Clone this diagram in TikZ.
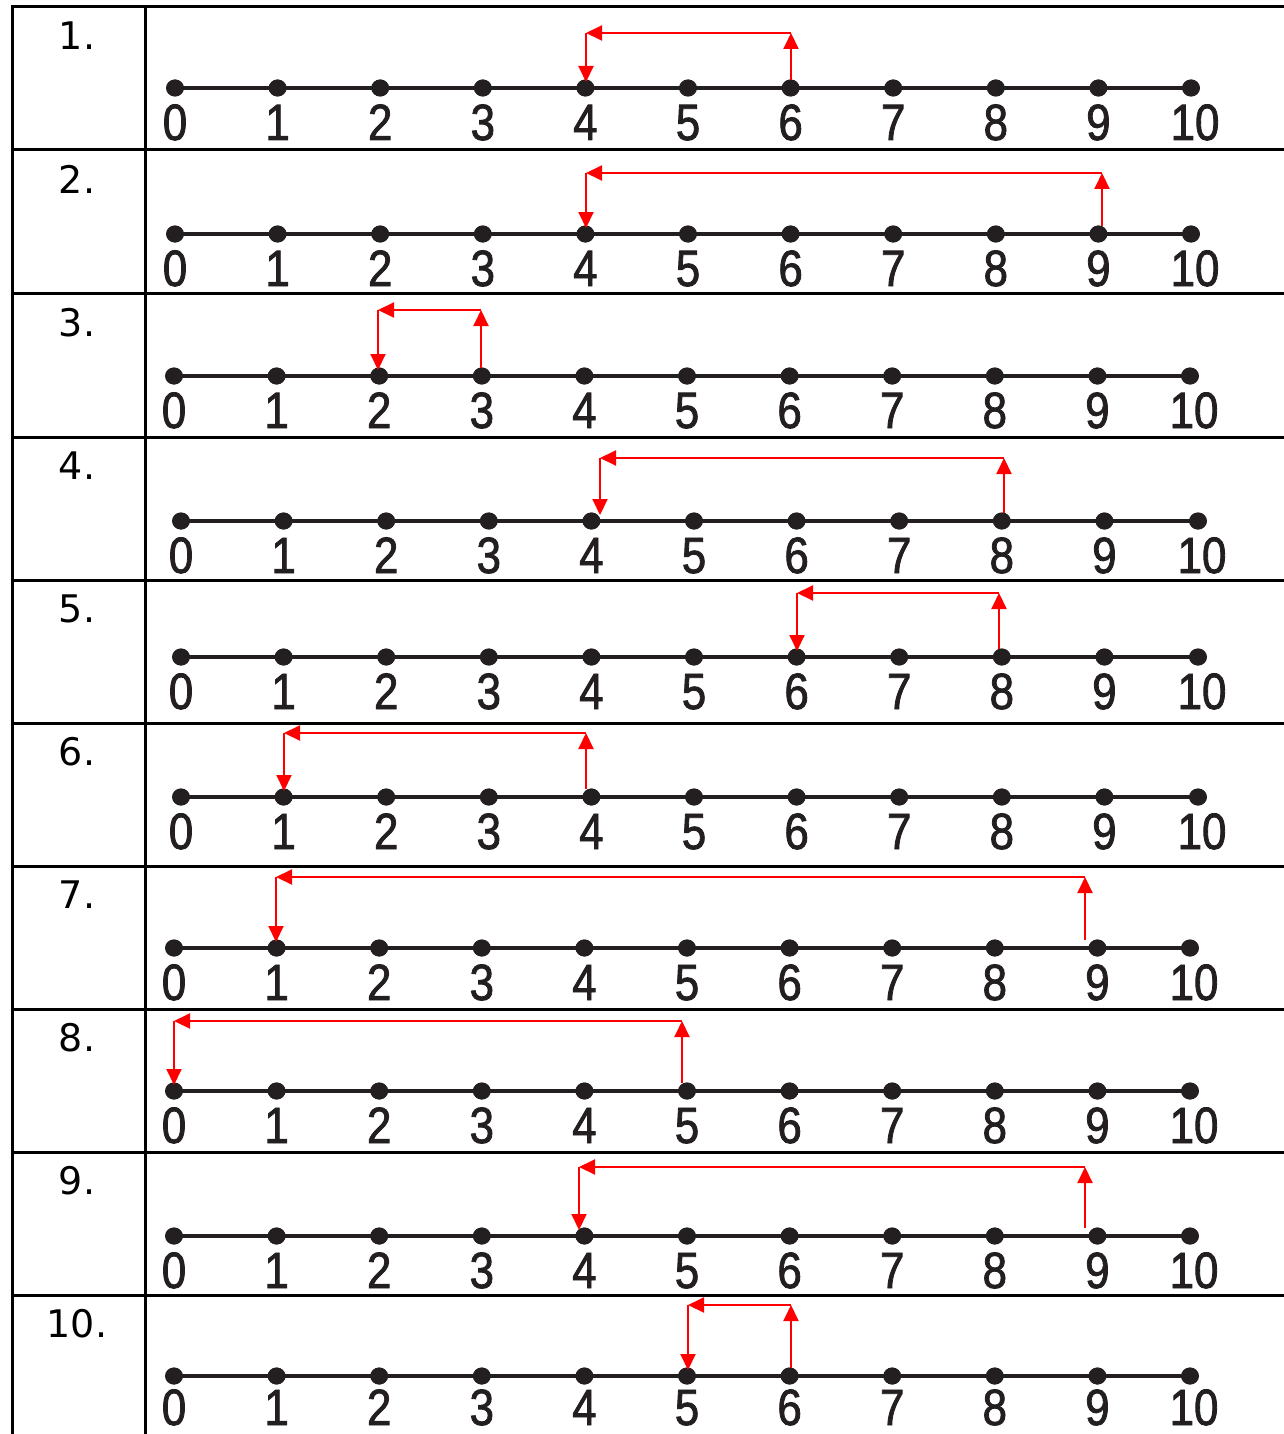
\documentclass[tikz,border=0pt]{standalone}
\usepackage{fontspec}
\setmainfont{Liberation Sans}
\newfontfamily\numfont[FakeStretch=0.86,FakeBold=1.6]{Liberation Sans}
\newfontfamily\rowfont{DejaVu Sans}
\usetikzlibrary{arrows.meta}
\definecolor{ink}{HTML}{231F20}
\tikzset{
  dotnode/.style={circle, fill=ink, inner sep=0pt, minimum size=17pt},
  numlab/.style={font=\numfont\fontsize{51}{51}\selectfont, text=ink, anchor=base, inner sep=0pt},
  rowlab/.style={font=\rowfont\fontsize{38}{38}\selectfont, anchor=base, inner sep=0pt},
  axisline/.style={line width=3.5pt, draw=ink},
  mv/.style={draw=red, line width=2pt, -{Triangle[length=16pt,width=15pt]}},
  gridline/.style={line width=3pt, draw=black}
}
\begin{document}
\begin{tikzpicture}[x=1pt,y=-1pt]
\useasboundingbox (0,0) rectangle (1284,1434);
% grid
\draw[gridline] (12,7) -- (1284,7);
\foreach \yy in {150,293,437,580,723,866,1009,1152,1295}{
  \draw[gridline] (12,\yy) -- (1284,\yy);
}
\draw[gridline] (12,5.5) -- (12,1434);
\draw[gridline] (145,5.5) -- (145,1434);
% rows
\foreach \r/\yl/\xo/\xten/\s/\t/\ty/\xs/\xt/\bl [count=\k from 0] in {
  1/88/175/1191/6/4/33/791/586/52,
  2/234/175/1191/9/4/173/1102/586/52,
  3/376/174/1190/3/2/310/481/378/52,
  4/521/181/1198/8/4/458/1004/600/52,
  5/657/181/1198/8/6/593/999/797/52,
  6/797/181/1198/4/1/733/586/284/52,
  7/948/174/1190/9/1/877/1085/276/52,
  8/1091/174/1190/5/0/1021/682/174/52,
  9/1236/174/1190/9/4/1167/1085/579/52,
  10/1376/174/1190/6/5/1305/791/688/49}{
  \node[rowlab] (lab\r) at (77,{50+143.1*\k}) {\r.};
  \foreach \i in {0,...,9}{
    \node[dotnode] (r\r n\i) at ({\xo+102.6*\i},\yl) {};
    \node[numlab] (r\r l\i) at ({\xo+102.6*\i},\yl+\bl) {\i};
  }
  \node[dotnode] (r\r n10) at (\xten,\yl) {};
  \node[numlab] (r\r l10) at (\xten+4,\yl+\bl) {10};
  \draw[axisline] (r\r n0.center) -- (r\r n10.center);
  \foreach \i in {0,...,10}{
    \fill[ink] (r\r n\i) ellipse (9pt and 8.5pt);
  }
  \coordinate (r\r s) at (\xs,\yl-8);
  \coordinate (r\r a) at (\xs,\ty);
  \coordinate (r\r b) at (\xt,\ty);
  \coordinate (r\r e) at (\xt,\yl-6);
  \draw[mv] (r\r s) -- (r\r a);
  \draw[mv] (r\r a) -- (r\r b);
  \draw[mv] (r\r b) -- (r\r e);
}
\end{tikzpicture}
\end{document}
